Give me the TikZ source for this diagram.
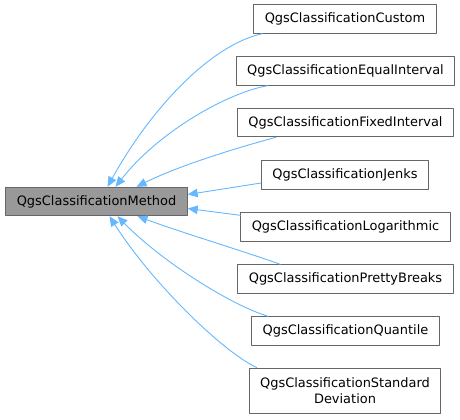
\documentclass[tikz,border=0pt]{standalone}
\usepackage{fontspec}
\setmainfont{DejaVu Sans}
\usetikzlibrary{arrows.meta}
\definecolor{Bline}{RGB}{102,102,102}
\definecolor{Bgray}{RGB}{153,153,153}
\definecolor{Eblue}{RGB}{99,184,255}

\begin{document}
\begin{tikzpicture}[x=1bp,y=-1bp,line cap=round,line join=round,
  cls/.style={draw=Bline,line width=0.9bp,fill=white,inner xsep=11bp,inner ysep=0pt,
    minimum height=28.5bp,font=\fontsize{13}{16}\selectfont,align=center},
  base/.style={cls,fill=Bgray},
  inh/.style={draw=Eblue,line width=0.9bp,{Triangle[length=10bp,width=8.5bp,fill=Eblue]}-}]
\path[use as bounding box] (0,0) rectangle (460,419);
\node[base] (method) at (96.5,201.5) {QgsClassificationMethod};
\node[cls] (custom) at (345,19) {QgsClassificationCustom};
\node[cls] (equal) at (345.5,71) {QgsClassificationEqualInterval};
\node[cls] (fixed) at (345.5,122.5) {QgsClassificationFixedInterval};
\node[cls] (jenks) at (345,175) {QgsClassificationJenks};
\node[cls] (log) at (345.5,227) {QgsClassificationLogarithmic};
\node[cls] (pretty) at (345.5,279) {QgsClassificationPrettyBreaks};
\node[cls] (quantile) at (345.5,331) {QgsClassificationQuantile};
\node[cls,minimum height=45bp] (stddev) at (345,390.5) {QgsClassificationStandard\\Deviation};
% inheritance edges
\draw[inh] ([xshift=11bp]method.north) .. controls (150,110) and (210,45) .. ([xshift=9bp]custom.south west);
\draw[inh] ([xshift=19bp]method.north) .. controls (160,130) and (230,92) .. ([xshift=32bp]equal.south west);
\draw[inh] ([xshift=40bp]method.north) .. controls (180,165) and (240,147) .. ([xshift=39bp]fixed.south west);
\draw[inh] ([yshift=7bp]method.east) -- ([yshift=-8bp]jenks.west);
\draw[inh] ([yshift=-7bp]method.east) -- ([yshift=-3bp]log.north west);
\draw[inh] ([xshift=41bp]method.south) .. controls (180,232) and (240,250) .. ([xshift=43bp]pretty.north west);
\draw[inh] ([xshift=21bp]method.south) .. controls (160,260) and (230,305) .. ([xshift=17bp]quantile.north west);
\draw[inh] ([xshift=13bp]method.south) .. controls (150,280) and (220,350) .. ([xshift=8bp]stddev.north west);
\end{tikzpicture}
\end{document}
